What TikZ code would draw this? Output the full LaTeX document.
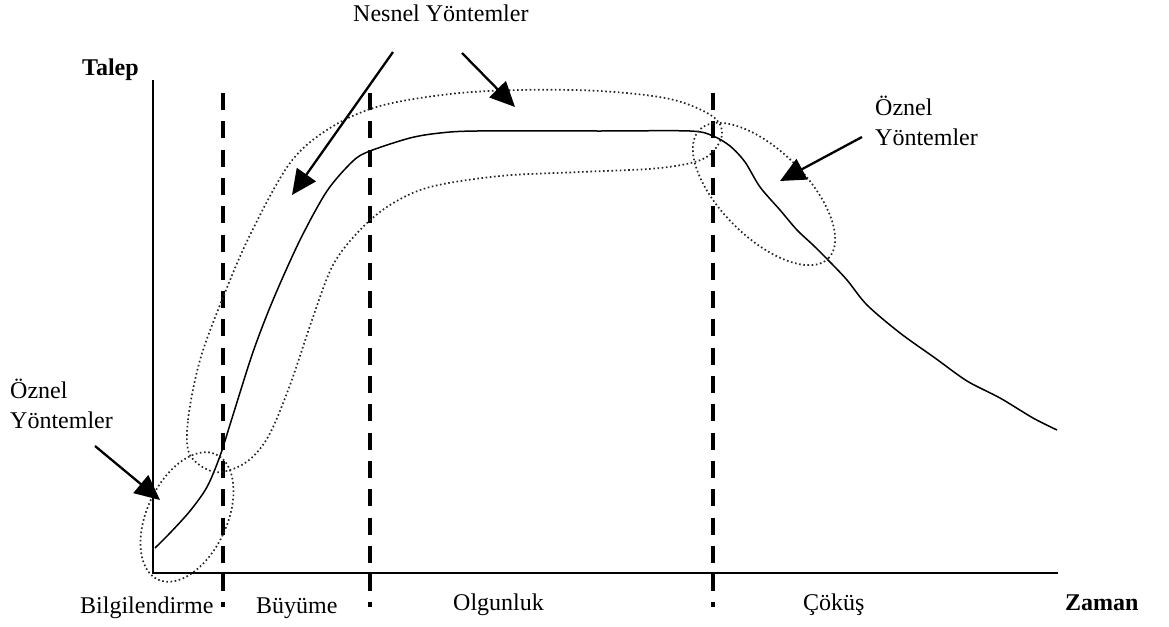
\documentclass[tikz,border=0pt]{standalone}
\usepackage{fontspec}
\setmainfont{Liberation Serif}
\usetikzlibrary{arrows.meta}
\begin{document}
\begin{tikzpicture}[x=1pt,y=-1pt,
  lbl/.style={anchor=base west, inner sep=0pt, font=\fontsize{24}{28}\selectfont},
  boldlbl/.style={lbl, font=\fontsize{24}{28}\selectfont\bfseries},
  axis/.style={line width=1.3pt},
  phase/.style={line width=3.4pt, dash pattern=on 17pt off 11.3pt},
  region/.style={line width=1.7pt, black!85, dash pattern=on 1.6pt off 2.6pt},
  demand/.style={line width=1.5pt, line join=round},
  pointer/.style={line width=2.3pt, -{Triangle[length=25pt,width=23pt]}}]
\useasboundingbox (0,0) rectangle (1169,626);

% axes
\coordinate (origin) at (153,573);
\coordinate (ytop) at (153,80);
\coordinate (xend) at (1058,573);
\draw[axis] (ytop) -- (origin) -- (xend);

% phase boundaries
\foreach \px/\nm in {223/b1, 370/b2, 713/b3} {
  \coordinate (\nm top) at (\px,93);
  \coordinate (\nm bot) at (\px,607);
  \draw[phase] (\nm top) -- (\nm bot);
}

% demand curve over the life cycle
\draw[demand] plot[smooth, tension=0.5] coordinates {
  (155,548) (170,533) (190,511) (207,487) (220,456) (233,415) (253,352)
  (273,300) (300,240) (327,191) (353,161) (370,151) (410,138) (440,133)
  (477,131) (600,131) (690,131) (713,136) (730,146) (745,162) (760,187)
  (780,210) (797,230) (813,245) (830,262) (847,280) (867,305) (900,333)
  (935,358) (967,381) (1000,398) (1033,418) (1057,430)};

% regions covered by the forecasting methods
\draw[region, rotate around={65:(187,517)}] (187,517) ellipse [x radius=69, y radius=40];
\draw[region, rotate around={-45:(764,194)}] (764,194) ellipse [x radius=91, y radius=43];
\draw[region] plot[smooth cycle, tension=0.55] coordinates {
  (190,455) (188,420) (200,360) (222,300) (250,235) (290,163) (330,128)
  (380,106) (450,94) (520,90) (600,91) (670,99) (712,116) (722,135)
  (705,158) (660,168) (580,172) (500,176) (430,187) (390,205) (360,230)
  (333,265) (312,320) (290,385) (268,437) (245,463) (215,472)};

% labels
\node[boldlbl] (talep) at (82,75) {Talep};
\node[boldlbl] (zaman) at (1065,610) {Zaman};
\node[lbl] (nesnel) at (353,22) {Nesnel Yöntemler};
\node[lbl] (oznelR) at (875,115) {Öznel};
\node[lbl] (yontR) at (875,145) {Yöntemler};
\node[lbl] (oznelL) at (10,398) {Öznel};
\node[lbl] (yontL) at (10,428) {Yöntemler};
\node[lbl] (bilgi) at (80,613) {Bilgilendirme};
\node[lbl] (buyume) at (256,613) {Büyüme};
\node[lbl] (olgun) at (453,610) {Olgunluk};
\node[lbl] (cokus) at (803,610) {Çöküş};

% pointers to the regions
\coordinate (p1s) at (393,52);  \coordinate (p1e) at (292,195);
\coordinate (p2s) at (462,53);  \coordinate (p2e) at (515,107);
\coordinate (p3s) at (862,137); \coordinate (p3e) at (780,181);
\coordinate (p4s) at (95,446);  \coordinate (p4e) at (160,500);
\draw[pointer] (p1s) -- (p1e);
\draw[pointer] (p2s) -- (p2e);
\draw[pointer] (p3s) -- (p3e);
\draw[pointer] (p4s) -- (p4e);
\end{tikzpicture}
\end{document}
